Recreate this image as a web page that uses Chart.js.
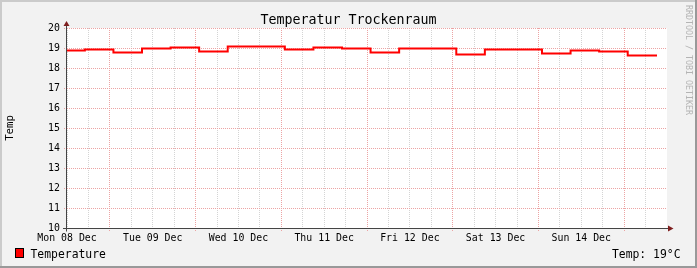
<!DOCTYPE html>
<html><head><meta charset="utf-8">
<script src="https://cdn.jsdelivr.net/npm/chart.js@4"></script>
<style>html,body{margin:0;padding:0;background:#f2f2f2}canvas{display:block}</style>
</head><body>
<canvas id="c" width="697" height="268"></canvas>
<script>
// ---- texts ----
const chartTitle = 'Temperatur Trockenraum';
const yAxisTitle = 'Temp';
const seriesName = 'Temperature';
const currentText = 'Temp: 19°C';
const watermarkText = 'RRDTOOL / TOBI OETIKER';

// ---- data: hours since Mon 08 Dec 00:00, step starts and values (°C) ----
const stepHours = [12, 17, 25, 33, 41, 49, 57, 73, 81, 89, 97, 105, 121, 129, 145, 153, 161, 169, 177.2];
const temperatures = [18.88, 18.93, 18.78, 18.98, 19.03, 18.83, 19.08, 18.93, 19.03, 18.98, 18.78, 18.98, 18.68, 18.93, 18.73, 18.88, 18.83, 18.63, 18.63];

// ---- axes ----
const dayLabels = ['Mon 08 Dec', 'Tue 09 Dec', 'Wed 10 Dec', 'Thu 11 Dec', 'Fri 12 Dec', 'Sat 13 Dec', 'Sun 14 Dec'];
const dayLabelHours = [12, 36, 60, 84, 108, 132, 156];
const xRange = [12, 180];
const xGridStep = 6;
const xMajorStep = 24;
const yRange = [10, 20];
const yGridStep = 0.5;

const FONT = "'DejaVu Sans Mono', monospace";
const MAJOR = 'rgb(236,164,164)';
const MINOR = 'rgb(212,212,212)';
const isInt = v => Math.abs(v - Math.round(v)) < 1e-6;

const points = stepHours.map((h, i) => ({x: h, y: temperatures[i]}));

const rrdFrame = {
  id: 'rrdFrame',
  beforeDraw(chart) {
    const ctx = chart.ctx, W = chart.width, H = chart.height, a = chart.chartArea;
    ctx.save();
    ctx.fillStyle = '#f2f2f2';
    ctx.fillRect(0, 0, W, H);
    ctx.fillStyle = '#cbcbcb';
    ctx.fillRect(0, 0, W, 2);
    ctx.fillRect(0, 0, 2, H);
    ctx.fillStyle = '#999999';
    ctx.fillRect(0, H - 2, W, 2);
    ctx.fillRect(W - 2, 0, 2, H);
    ctx.fillStyle = '#ffffff';
    ctx.fillRect(a.left, a.top, a.right - a.left, a.bottom - a.top);
    ctx.restore();
  },
  afterDraw(chart) {
    const ctx = chart.ctx, a = chart.chartArea;
    ctx.save();
    // axes
    const ax = a.left - 0.5, ay = a.bottom + 0.5;
    ctx.strokeStyle = '#444444';
    ctx.lineWidth = 1;
    ctx.beginPath();
    ctx.moveTo(ax, ay + 3); ctx.lineTo(ax, a.top - 3);
    ctx.moveTo(ax - 3.5, ay); ctx.lineTo(a.right + 2, ay);
    ctx.stroke();
    ctx.fillStyle = '#7f1f1f';
    ctx.beginPath();
    ctx.moveTo(ax, a.top - 7); ctx.lineTo(ax - 3, a.top - 2); ctx.lineTo(ax + 3, a.top - 2); ctx.closePath();
    ctx.fill();
    ctx.beginPath();
    ctx.moveTo(a.right + 6.5, ay); ctx.lineTo(a.right + 1, ay - 3); ctx.lineTo(a.right + 1, ay + 3); ctx.closePath();
    ctx.fill();
    // legend
    const ds = chart.data.datasets[0];
    ctx.fillStyle = '#000';
    ctx.fillRect(15, 248, 9, 10);
    ctx.fillStyle = ds.borderColor;
    ctx.fillRect(16, 249, 7, 8);
    ctx.font = '11.4px ' + FONT;
    ctx.textBaseline = 'alphabetic';
    ctx.fillStyle = '#000';
    ctx.textAlign = 'left';
    ctx.fillText(ds.label, 30.5, 258);
    ctx.textAlign = 'right';
    ctx.fillText(currentText, 680.5, 258);
    // watermark
    ctx.translate(688, 5);
    ctx.rotate(Math.PI / 2);
    ctx.textAlign = 'left';
    ctx.textBaseline = 'middle';
    ctx.font = '8.3px ' + FONT;
    ctx.fillStyle = '#b4b4b4';
    ctx.fillText(watermarkText, 0, 0);
    ctx.restore();
  }
};

new Chart(document.getElementById('c'), {
  type: 'line',
  data: {
    datasets: [{
      label: seriesName,
      data: points,
      stepped: 'before',
      borderColor: '#ff0000',
      backgroundColor: '#ff0000',
      borderWidth: 2,
      pointRadius: 0,
      fill: false
    }]
  },
  options: {
    responsive: false,
    animation: false,
    events: [],
    layout: {padding: 0},
    font: {family: FONT},
    plugins: {
      legend: {display: false},
      tooltip: {enabled: false},
      title: {
        display: true,
        text: chartTitle,
        color: '#000',
        font: {family: FONT, size: 13.3, weight: 'normal', lineHeight: '15px'},
        padding: {top: 13, bottom: 0}
      }
    },
    scales: {
      x: {
        type: 'linear',
        min: xRange[0],
        max: xRange[1],
        afterFit(s) { s.height = 40; },
        afterBuildTicks(s) {
          const t = [];
          for (let v = xRange[0]; v < xRange[1]; v += xGridStep) t.push({value: v});
          s.ticks = t;
        },
        ticks: {
          autoSkip: false, maxRotation: 0, minRotation: 0, padding: 1,
          color: '#000',
          font: {family: FONT, size: 9.9},
          callback(v) { const i = dayLabelHours.indexOf(v); return i >= 0 ? dayLabels[i] : ''; }
        },
        grid: {
          color: c => (c.tick && c.tick.value % xMajorStep === 0) ? MAJOR : MINOR,
          tickColor: c => (c.tick && c.tick.value % xMajorStep === 0) ? MAJOR : 'rgba(0,0,0,0)',
          tickLength: 3,
          lineWidth: 1,
          tickBorderDash: [1, 1]
        },
        border: {display: false, dash: [1, 1]}
      },
      y: {
        min: yRange[0],
        max: yRange[1],
        afterFit(s) { s.width = 67; },
        ticks: {
          stepSize: yGridStep, padding: 4, color: '#000',
          font: {family: FONT, size: 9.9},
          callback(v) { return isInt(v) ? String(Math.round(v)) : ''; }
        },
        grid: {
          color: c => (c.tick && isInt(c.tick.value)) ? MAJOR : MINOR,
          tickColor: c => (c.tick && isInt(c.tick.value)) ? MAJOR : 'rgba(0,0,0,0)',
          tickLength: 3,
          lineWidth: 1,
          tickBorderDash: [1, 1]
        },
        border: {display: false, dash: [1, 1]},
        title: {
          display: true,
          text: yAxisTitle,
          color: '#000',
          font: {family: FONT, size: 10.7, lineHeight: 1.2},
          padding: {top: 4, bottom: 0}
        }
      },
      yRightMargin: {
        axis: 'y',
        position: 'right',
        min: yRange[0],
        max: yRange[1],
        afterFit(s) { s.width = 30; },
        ticks: {display: false},
        grid: {display: false, drawTicks: false},
        border: {display: false}
      }
    }
  },
  plugins: [rrdFrame]
});
</script>
</body></html>
